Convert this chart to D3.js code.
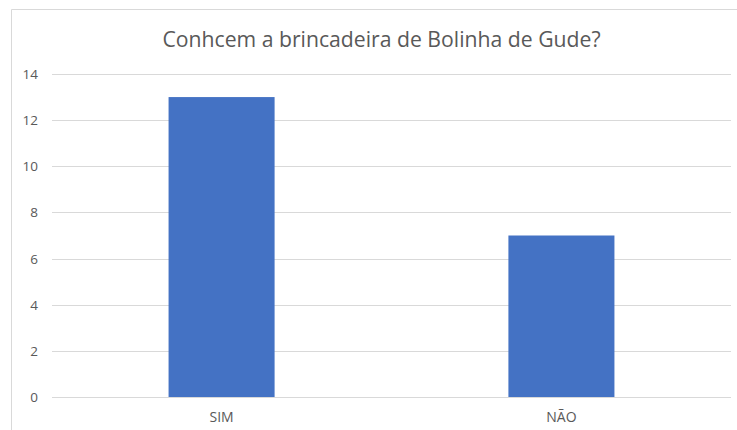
<!DOCTYPE html>
<html>
<head>
<meta charset="utf-8">
<script src="https://cdn.jsdelivr.net/npm/d3@7"></script>
<style>
  body { margin: 0; background: #fff; }
  svg { display: block; }
  text { font-family: "Open Sans", "Noto Sans", sans-serif; fill: #595959; }
</style>
</head>
<body>
<svg id="svg0" width="737" height="430"></svg>
<script>
var categories = ['SIM', 'NÃO'];
var values = [13, 7];
var yTicks = [0, 2, 4, 6, 8, 10, 12, 14];
var title = 'Conhcem a brincadeira de Bolinha de Gude?';

var width = 737;
var height = 430;

var svg0 = d3.select('#svg0');

// chart frame (only top and left edges fall inside the picture)
svg0.append('path')
    .attr('d', 'M11.5,' + height + 'V9.5H' + width)
    .attr('fill', 'none')
    .attr('stroke', '#d9d9d9')
    .attr('stroke-width', 1);

var y = d3.scaleLinear()
    .domain([0, 14])
    .range([397, 74]);

var x = d3.scaleBand()
    .domain(categories)
    .range([52, 731])
    .paddingInner(0.688)
    .paddingOuter(0.343);

// gridlines
svg0.append('g')
    .selectAll('line')
    .data(yTicks)
    .enter()
    .append('line')
    .attr('x1', 52)
    .attr('x2', 731)
    .attr('y1', function(d){ return Math.round(y(d)) + 0.5; })
    .attr('y2', function(d){ return Math.round(y(d)) + 0.5; })
    .attr('stroke', '#d9d9d9')
    .attr('stroke-width', 1);

// y tick labels
svg0.append('g')
    .selectAll('text')
    .data(yTicks)
    .enter()
    .append('text')
    .attr('x', 38)
    .attr('y', function(d){ return y(d) + 5; })
    .attr('text-anchor', 'end')
    .attr('font-size', '13.5px')
    .text(function(d){ return d; });

// bars
svg0.append('g')
    .selectAll('rect')
    .data(values)
    .enter()
    .append('rect')
    .attr('x', function(d, i){ return x(categories[i]); })
    .attr('width', x.bandwidth())
    .attr('y', function(d){ return y(d); })
    .attr('height', function(d){ return y(0) - y(d); })
    .attr('fill', '#4472c4');

// category labels
svg0.append('g')
    .selectAll('text')
    .data(categories)
    .enter()
    .append('text')
    .attr('x', function(d){ return x(d) + x.bandwidth() / 2; })
    .attr('y', 422)
    .attr('text-anchor', 'middle')
    .attr('font-size', '14px')
    .text(function(d){ return d; });

// title
svg0.append('text')
    .attr('x', 381.5)
    .attr('y', 47)
    .attr('text-anchor', 'middle')
    .attr('font-size', '21.2px')
    .text(title);
</script>
</body>
</html>
